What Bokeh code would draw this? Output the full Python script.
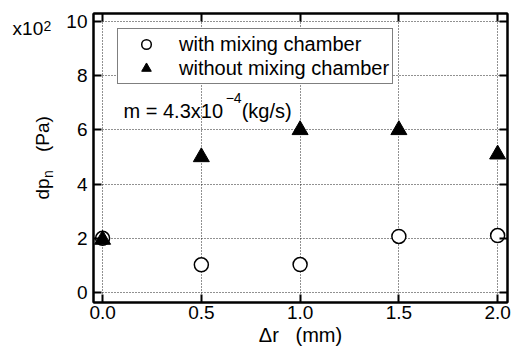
import math
from bokeh.plotting import figure
from bokeh.models import (Range1d, FixedTicker, LinearAxis, Legend, LegendItem, Label)
from bokeh.embed import file_html
from bokeh.resources import INLINE

# ---- data ----
dr_mm = [0.0, 0.5, 1.0, 1.5, 2.0]
dp_with_chamber = [2.0, 1.02, 1.03, 2.07, 2.1]      # x10^2 Pa
dp_without_chamber = [1.95, 5.0, 6.0, 6.0, 5.1]     # x10^2 Pa
series_names = ["with mixing chamber", "without mixing chamber"]
x_ticks = [0.0, 0.5, 1.0, 1.5, 2.0]
x_tick_labels = ["0.0", "0.5", "1.0", "1.5", "2.0"]
y_ticks = [0, 2, 4, 6, 8, 10]
y_tick_labels = ["0", "2", "4", "6", "8", "10"]

FONT = "Liberation Sans"

p = figure(width=520, height=353, output_backend="svg", toolbar_location=None,
           x_range=Range1d(-0.046, 2.05), y_range=Range1d(-0.37, 10.3),
           min_border_left=93, min_border_right=13, min_border_top=13,
           min_border_bottom=51, background_fill_color="white",
           border_fill_color="white")

p.outline_line_color = "black"
p.outline_line_width = 2

# axes
p.xaxis.ticker = FixedTicker(ticks=x_ticks)
p.xaxis.major_label_overrides = {t: l for t, l in zip(x_ticks, x_tick_labels)}
p.yaxis.ticker = FixedTicker(ticks=y_ticks)
p.yaxis.major_label_overrides = {t: l for t, l in zip(y_ticks, y_tick_labels)}
for ax in (p.xaxis[0], p.yaxis[0]):
    ax.axis_line_color = "black"
    ax.axis_line_width = 2
    ax.major_tick_in = 8
    ax.major_tick_out = 0
    ax.major_tick_line_width = 2
    ax.major_tick_line_color = "black"
    ax.minor_tick_line_color = None
    ax.major_label_text_font = FONT
    ax.major_label_text_font_size = "19px"
    ax.major_label_text_color = "black"
p.xaxis.major_label_standoff = 3
p.yaxis.major_label_standoff = 6

p.xaxis.axis_label = "\u0394r\u00a0\u00a0\u00a0(mm)"
p.xaxis.axis_label_text_font = FONT
p.xaxis.axis_label_text_font_size = "20px"
p.xaxis.axis_label_text_font_style = "normal"
p.xaxis.axis_label_text_color = "black"
p.xaxis.axis_label_standoff = 2

for loc, ticks in (("above", x_ticks), ("right", y_ticks)):
    ax = LinearAxis(ticker=FixedTicker(ticks=ticks),
                    major_label_text_font_size="0px",
                    major_label_text_color=None, major_label_standoff=0,
                    axis_line_color="black", axis_line_width=2,
                    major_tick_in=8, major_tick_out=0, major_tick_line_width=2,
                    minor_tick_line_color=None)
    p.add_layout(ax, loc)

# grid
p.xgrid[0].ticker = FixedTicker(ticks=x_ticks)
p.ygrid[0].ticker = FixedTicker(ticks=y_ticks)
for g in (p.xgrid[0], p.ygrid[0]):
    g.grid_line_color = "#222222"
    g.grid_line_dash = "1 2"
    g.grid_line_width = 1

# data
r_with = p.scatter(dr_mm, dp_with_chamber, marker="circle", size=14,
                   fill_color="white", line_color="black", line_width=1.5)
r_without = p.scatter(dr_mm, dp_without_chamber, marker="triangle", size=16,
                      fill_color="black", line_color="black", line_width=1)

legend = Legend(items=[LegendItem(label=series_names[0], renderers=[r_with]),
                       LegendItem(label=series_names[1], renderers=[r_without])],
                location=(24, 218), margin=0, padding=3, spacing=0,
                glyph_width=50, glyph_height=24, label_height=24,
                label_standoff=8, border_line_color="black",
                border_line_width=1.5, background_fill_color="white",
                background_fill_alpha=1.0, label_text_font=FONT,
                label_text_font_size="20px", label_text_color="black")
p.add_layout(legend)


def lab(text, x, y, size, angle=0.0, place="center"):
    p.add_layout(Label(x=x, y=y, text=text, text_font=FONT,
                       text_font_size=size, text_color="black",
                       text_align="left", text_baseline="alphabetic",
                       angle=angle), place)


# annotation m = 4.3x10^-4 (kg/s)
lab("m = 4.3x10", 0.106, 6.716, "20px")
lab("\u22124", 0.623, 7.196, "14px")
lab("(kg/s)", 0.704, 6.716, "20px")

# texts outside the frame live in side panels (not clipped), spread over
# panels so that the borders keep their size
lab("x10", -0.4557, 9.742, "19px", place="left")
lab("2", -0.2987, 9.852, "14px", place="right")
lab("dp\u00a0\u00a0\u00a0\u00a0\u00a0(Pa)", -0.3063, 3.432, "19px",
    math.pi / 2, place="left")
lab("n", -0.276, 4.225, "14px", math.pi / 2, place="above")

open("out.html", "w").write(file_html(p, INLINE))
